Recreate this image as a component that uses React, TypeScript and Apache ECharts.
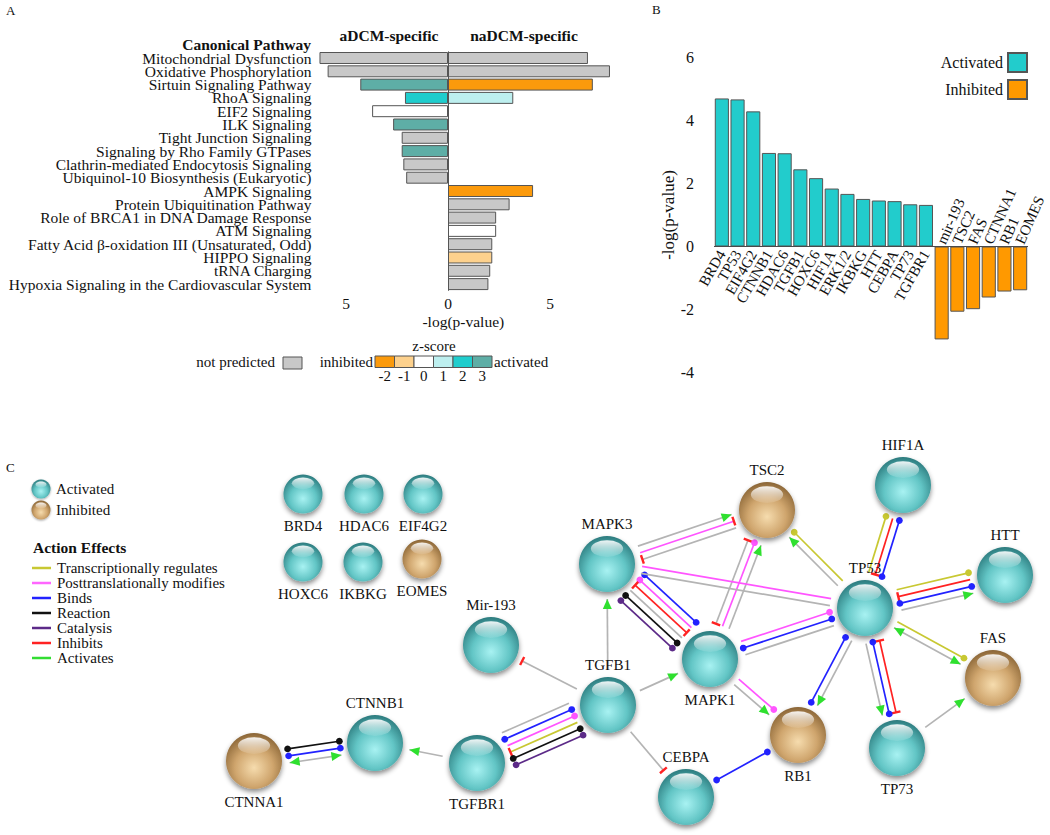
import React, { useEffect, useRef } from 'react';
import * as echarts from 'echarts';

const FONT = "'Liberation Serif', 'Times New Roman', serif";
const INK = '#111111';

// ---------- Panel A data ----------
const pathways = [
  'Mitochondrial Dysfunction',
  'Oxidative Phosphorylation',
  'Sirtuin Signaling Pathway',
  'RhoA Signaling',
  'EIF2 Signaling',
  'ILK Signaling',
  'Tight Junction Signaling',
  'Signaling by Rho Family GTPases',
  'Clathrin-mediated Endocytosis Signaling',
  'Ubiquinol-10 Biosynthesis (Eukaryotic)',
  'AMPK Signaling',
  'Protein Ubiquitination Pathway',
  'Role of BRCA1 in DNA Damage Response',
  'ATM Signaling',
  'Fatty Acid β-oxidation III (Unsaturated, Odd)',
  'HIPPO Signaling',
  'tRNA Charging',
  'Hypoxia Signaling in the Cardiovascular System',
];
const aDCMLogP = [6.3, 5.9, 4.3, 2.11, 3.72, 2.69, 2.27, 2.27, 2.19, 2.05, null, null, null, null, null, null, null, null];
const aDCMZ = [null, null, 3, 2, 0, 3, null, 3, null, null, null, null, null, null, null, null, null, null];
const naDCMLogP = [6.86, 7.94, 7.1, 3.2, null, null, null, null, null, null, 4.17, 3.02, 2.36, 2.36, 2.17, 2.17, 2.07, 1.98];
const naDCMZ = [null, null, -2, 1, null, null, null, null, null, null, -2, null, null, 0, null, -1, null, null];
const zScoreTicks = [-2, -1, 0, 1, 2, 3];
const xTicksA = [-5, 0, 5];

// ---------- Panel B data ----------
const regulators = ['BRD4', 'TP53', 'EIF4G2', 'CTNNB1', 'HDAC6', 'TGFB1', 'HOXC6', 'HIF1A', 'ERK1/2', 'IKBKG', 'HTT', 'CEBPA', 'TP73', 'TGFBR1', 'mir-193', 'TSC2', 'FAS', 'CTNNA1', 'RB1', 'EOMES'];
const regulatorLogP = [4.7, 4.67, 4.29, 2.97, 2.96, 2.45, 2.17, 1.84, 1.67, 1.51, 1.46, 1.44, 1.34, 1.32, -2.95, -2.07, -1.99, -1.62, -1.43, -1.39];

// ---------- Panel C data ----------
const nodeNames = ['BRD4', 'HDAC6', 'EIF4G2', 'HOXC6', 'IKBKG', 'EOMES', 'Mir-193', 'CTNNB1', 'CTNNA1', 'TGFBR1', 'TGFB1', 'MAPK3', 'MAPK1', 'CEBPA', 'TSC2', 'TP53', 'RB1', 'TP73', 'HIF1A', 'HTT', 'FAS'];
const nodeX = [303, 364, 423, 303, 363, 422, 491, 375, 254, 477, 608, 607, 710, 686, 767, 865, 798, 897, 903, 1005, 993];
const nodeY = [494, 494, 494, 562, 562, 559, 645, 743, 761, 763, 705, 564, 659, 797, 510, 608, 735, 748, 485, 575, 678];
const nodeState = ['act', 'act', 'act', 'act', 'act', 'inh', 'act', 'act', 'inh', 'act', 'act', 'act', 'act', 'act', 'inh', 'act', 'inh', 'act', 'act', 'act', 'inh'];
const nodeLabelSide = ['bottom', 'bottom', 'bottom', 'bottom', 'bottom', 'bottom', 'top', 'top', 'bottom', 'bottom', 'top', 'top', 'bottom', 'top', 'top', 'top', 'bottom', 'bottom', 'top', 'top', 'top'];
const nodeBig = [false, false, false, false, false, false, true, true, true, true, true, true, true, true, true, true, true, true, true, true, true];

// [from, to, relation, lane, startMark, endMark]
const edges: any[] = [
  ['CTNNA1', 'CTNNB1', 'reaction', -1, 'dot', 'dot'],
  ['CTNNA1', 'CTNNB1', 'binds', 0, 'dot', 'dot'],
  ['CTNNA1', 'CTNNB1', 'plain', 1, 'arrow', 'arrow'],
  ['TGFBR1', 'CTNNB1', 'plain', 0, '', 'arrow'],
  ['TGFBR1', 'TGFB1', 'plain', -2.5, '', ''],
  ['TGFBR1', 'TGFB1', 'binds', -1.5, 'dot', 'dot'],
  ['TGFBR1', 'TGFB1', 'ptm', -0.5, '', 'dot'],
  ['TGFBR1', 'TGFB1', 'transcr', 0.5, 'bar', ''],
  ['TGFBR1', 'TGFB1', 'reaction', 1.5, 'dot', 'dot'],
  ['TGFBR1', 'TGFB1', 'catalysis', 2.5, 'dot', 'dot'],
  ['TGFB1', 'Mir-193', 'plain', 0, '', 'bar'],
  ['TGFB1', 'MAPK3', 'plain', 0, '', 'arrow'],
  ['TGFB1', 'MAPK1', 'plain', 0, '', 'arrow'],
  ['TGFB1', 'CEBPA', 'plain', 0, '', 'bar'],
  ['CEBPA', 'RB1', 'binds', 0, 'dot', 'dot'],
  ['MAPK3', 'MAPK1', 'binds', -2.5, 'dot', 'dot'],
  ['MAPK3', 'MAPK1', 'ptm', -1.5, 'dot', ''],
  ['MAPK3', 'MAPK1', 'inhibits', -0.5, 'bar', 'bar'],
  ['MAPK3', 'MAPK1', 'plain', 0.5, '', ''],
  ['MAPK3', 'MAPK1', 'reaction', 1.5, 'dot', 'dot'],
  ['MAPK3', 'MAPK1', 'catalysis', 2.5, 'dot', 'dot'],
  ['MAPK3', 'TSC2', 'plain', -1, '', 'arrow'],
  ['MAPK3', 'TSC2', 'ptm', 0, '', 'bar'],
  ['MAPK3', 'TSC2', 'plain', 1, 'bar', ''],
  ['MAPK1', 'TSC2', 'plain', -1, 'bar', 'bar'],
  ['MAPK1', 'TSC2', 'ptm', 0, '', 'dot'],
  ['MAPK1', 'TSC2', 'plain', 1, '', 'arrow'],
  ['MAPK3', 'TP53', 'ptm', -0.5, '', ''],
  ['MAPK3', 'TP53', 'plain', 0.5, '', ''],
  ['MAPK1', 'TP53', 'ptm', -1, '', 'dot'],
  ['MAPK1', 'TP53', 'binds', 0, 'dot', 'dot'],
  ['MAPK1', 'TP53', 'plain', 1, '', ''],
  ['MAPK1', 'RB1', 'ptm', -0.5, '', 'dot'],
  ['MAPK1', 'RB1', 'plain', 0.5, '', 'arrow'],
  ['TP53', 'TSC2', 'transcr', 0.5, '', 'dot'],
  ['TP53', 'TSC2', 'plain', -0.5, '', 'arrow'],
  ['TP53', 'HIF1A', 'transcr', -1, '', 'dot'],
  ['TP53', 'HIF1A', 'inhibits', 0, 'bar', ''],
  ['TP53', 'HIF1A', 'binds', 1, 'dot', 'dot'],
  ['TP53', 'HTT', 'transcr', -1.5, '', 'dot'],
  ['TP53', 'HTT', 'inhibits', -0.5, 'bar', ''],
  ['TP53', 'HTT', 'binds', 0.5, 'dot', 'dot'],
  ['TP53', 'HTT', 'plain', 1.5, '', 'arrow'],
  ['TP53', 'FAS', 'transcr', -0.5, '', 'dot'],
  ['TP53', 'FAS', 'plain', 0.5, 'arrow', 'arrow'],
  ['TP53', 'RB1', 'binds', 0.5, 'dot', 'dot'],
  ['TP53', 'RB1', 'plain', -0.5, '', 'arrow'],
  ['TP53', 'TP73', 'inhibits', -1, 'bar', 'bar'],
  ['TP53', 'TP73', 'binds', 0, 'dot', 'dot'],
  ['TP53', 'TP73', 'plain', 1, '', 'arrow'],
  ['TP73', 'FAS', 'plain', 0, '', 'arrow'],
];

const actionLabels = ['Transcriptionally regulates', 'Posttranslationally modifies', 'Binds', 'Reaction', 'Catalysis', 'Inhibits', 'Activates'];

// ---------- styles ----------
const zColors = ['#fb9a0c', '#fdd18d', '#ffffff', '#bdefef', '#1fcdcd', '#5eaea6'];
const notPredicted = '#c8c8c8';
const actColor = '#22cccc';
const inhColor = '#ff9900';
const relColor: any = {
  plain: '#b4b4b4',
  transcr: '#c8c832',
  ptm: '#ff55ff',
  binds: '#2222ff',
  reaction: '#111111',
  catalysis: '#5c2a88',
  inhibits: '#ff2222',
};
const actionColors = ['#c8c832', '#ff66ff', '#2222ff', '#111111', '#5c2a88', '#ff2222', '#33dd33'];
const ARROW = '#2fe02f';
const TBAR = '#ff2222';

const zColor = (z: any) => (z == null ? notPredicted : zColors[zScoreTicks.indexOf(z)]);

const sphereFill = (state: string) =>
  state === 'act'
    ? {
        type: 'radial', x: 0.5, y: 0.62, r: 0.62,
        colorStops: [
          { offset: 0, color: '#a8f2f2' },
          { offset: 0.55, color: '#62c5c5' },
          { offset: 1, color: '#2b7a7d' },
        ],
      }
    : {
        type: 'radial', x: 0.5, y: 0.62, r: 0.62,
        colorStops: [
          { offset: 0, color: '#f6dcae' },
          { offset: 0.55, color: '#cfa56d' },
          { offset: 1, color: '#8a6536' },
        ],
      };
const glossFill = {
  type: 'linear', x: 0, y: 0, x2: 0, y2: 1,
  colorStops: [
    { offset: 0, color: 'rgba(255,255,255,0.92)' },
    { offset: 1, color: 'rgba(255,255,255,0.08)' },
  ],
};
const ELLIPSE = 'path://M0,50 A50,50 0 1,1 100,50 A50,50 0 1,1 0,50 Z';

const txt = (x: number, y: number, text: string, extra: any = {}) => ({
  type: 'text', x, y, silent: true,
  style: { text, fontFamily: FONT, fontSize: 15, fill: INK, textAlign: 'left', textVerticalAlign: 'middle', ...extra },
});

function buildOption() {
  const nodeIndex: any = {};
  nodeNames.forEach((n, i) => (nodeIndex[n] = i));
  const nodeR = nodeBig.map((b) => (b ? 28 : 19.5));

  const graphics: any[] = [];
  // panel letters
  graphics.push(txt(6, 10, 'A', { fontSize: 13 }));
  graphics.push(txt(652, 9, 'B', { fontSize: 13 }));
  graphics.push(txt(6, 467, 'C', { fontSize: 13 }));
  // panel A headers
  graphics.push(txt(311, 44, 'Canonical Pathway', { fontWeight: 'bold', textAlign: 'right', fontSize: 15.5 }));
  graphics.push(txt(389, 35, 'aDCM-specific', { fontWeight: 'bold', textAlign: 'center', fontSize: 15.5 }));
  graphics.push(txt(524, 35, 'naDCM-specific', { fontWeight: 'bold', textAlign: 'center', fontSize: 15.5 }));
  // z-score legend
  graphics.push(txt(434, 346, 'z-score', { textAlign: 'center' }));
  graphics.push(txt(275, 362, 'not predicted', { textAlign: 'right' }));
  graphics.push({ type: 'rect', shape: { x: 283, y: 357, width: 19, height: 12 }, style: { fill: notPredicted, stroke: '#555', lineWidth: 1 }, silent: true });
  graphics.push(txt(373, 362, 'inhibited', { textAlign: 'right' }));
  zScoreTicks.forEach((z, i) => {
    const x0 = 375 + i * 19.5;
    graphics.push({ type: 'rect', shape: { x: x0, y: 356, width: 19.5, height: 11.5 }, style: { fill: zColor(z), stroke: '#555', lineWidth: 1 }, silent: true });
    graphics.push(txt(x0 + 9.75, 376, String(z), { textAlign: 'center' }));
  });
  graphics.push(txt(494, 362, 'activated'));

  // panel C legend
  [['act', 'Activated', 489], ['inh', 'Inhibited', 510]].forEach(([st, label, y]: any) => {
    graphics.push({ type: 'circle', shape: { cx: 41, cy: y, r: 9.5 }, style: { fill: sphereFill(st), shadowBlur: 2, shadowColor: 'rgba(0,0,0,0.35)', shadowOffsetY: 1 }, silent: true });
    graphics.push({ type: 'ellipse', shape: { cx: 41, cy: y - 4.5, rx: 5.5, ry: 3 }, style: { fill: glossFill }, silent: true });
    graphics.push(txt(56, y, label));
  });
  graphics.push(txt(33, 547, 'Action Effects', { fontWeight: 'bold', fontSize: 15.5 }));
  actionLabels.forEach((lab, i) => {
    const y = 568 + i * 15;
    graphics.push({ type: 'line', shape: { x1: 32, y1: y, x2: 51, y2: y }, style: { stroke: actionColors[i], lineWidth: 2.5 }, silent: true });
    graphics.push(txt(57, y, lab, { lineHeight: 14 }));
  });

  const barBorder = { borderColor: '#555555', borderWidth: 1 };

  const edgeData = edges.map((e) => {
    const a = nodeIndex[e[0]];
    const b = nodeIndex[e[1]];
    return [nodeX[a], nodeY[a], nodeX[b], nodeY[b]];
  });

  const renderEdge = (params: any, api: any) => {
    const e = edges[params.dataIndex];
    const a = nodeIndex[e[0]];
    const b = nodeIndex[e[1]];
    const p1 = api.coord([api.value(0), api.value(1)]);
    const p2 = api.coord([api.value(2), api.value(3)]);
    const dx = p2[0] - p1[0];
    const dy = p2[1] - p1[1];
    const len = Math.hypot(dx, dy) || 1;
    const ux = dx / len;
    const uy = dy / len;
    const px = -uy;
    const py = ux;
    const o = e[3] * 7;
    const g1 = nodeR[a] + 7;
    const g2 = nodeR[b] + 7;
    const s = [p1[0] + ux * g1 + px * o, p1[1] + uy * g1 + py * o];
    const t = [p2[0] - ux * g2 + px * o, p2[1] - uy * g2 + py * o];
    const color = relColor[e[2]];
    const children: any[] = [
      { type: 'line', shape: { x1: s[0], y1: s[1], x2: t[0], y2: t[1] }, style: { stroke: color, lineWidth: 1.7 } },
    ];
    const mark = (kind: string, pt: number[], dirx: number, diry: number) => {
      if (kind === 'dot') {
        children.push({ type: 'circle', shape: { cx: pt[0], cy: pt[1], r: 3.4 }, style: { fill: color === relColor.plain ? '#888' : color } });
      } else if (kind === 'arrow') {
        children.push({
          type: 'polygon',
          shape: {
            points: [
              [pt[0], pt[1]],
              [pt[0] - dirx * 10 - diry * 4.5, pt[1] - diry * 10 + dirx * 4.5],
              [pt[0] - dirx * 10 + diry * 4.5, pt[1] - diry * 10 - dirx * 4.5],
            ],
          },
          style: { fill: ARROW },
        });
      } else if (kind === 'bar') {
        children.push({
          type: 'line',
          shape: { x1: pt[0] + px * 4.5, y1: pt[1] + py * 4.5, x2: pt[0] - px * 4.5, y2: pt[1] - py * 4.5 },
          style: { stroke: TBAR, lineWidth: 2.4 },
        });
      }
    };
    mark(e[4], s, -ux, -uy);
    mark(e[5], t, ux, uy);
    return { type: 'group', children };
  };

  const regLabel = { show: true, verticalAlign: 'middle', distance: 5, formatter: '{b}', fontSize: 15, color: INK, fontFamily: FONT, lineHeight: 13 };

  return {
    animation: false,
    backgroundColor: '#ffffff',
    textStyle: { fontFamily: FONT, color: INK },
    graphic: { elements: graphics },
    legend: {
      data: ['Activated', 'Inhibited'],
      orient: 'vertical',
      right: 22,
      top: 52,
      padding: 0,
      itemWidth: 19,
      itemHeight: 19,
      itemGap: 6,
      align: 'right',
      icon: 'rect',
      textStyle: { fontFamily: FONT, fontSize: 16, color: INK },
    },
    grid: [
      { left: 315.4, top: 51.35, width: 295.8, height: 239.4, outerBoundsMode: 'none', containLabel: false },
      { left: 714, top: 57.5, width: 314, height: 315, outerBoundsMode: 'none', containLabel: false },
      { left: 0, top: 420, width: 1050, height: 415, outerBoundsMode: 'none', containLabel: false },
    ],
    xAxis: [
      {
        gridIndex: 0, type: 'value', min: -6.5, max: 8, splitNumber: 3, minInterval: 5, maxInterval: 5,
        axisLine: { show: false }, axisTick: { show: false }, splitLine: { show: false },
        axisLabel: {
          fontSize: 15.5, color: INK, margin: 5, fontFamily: FONT,
          formatter: (v: number) => (xTicksA.indexOf(v) >= 0 ? String(Math.abs(v)) : ''),
        },
        name: '-log(p-value)', nameLocation: 'middle', nameGap: 23,
        nameTextStyle: { fontSize: 15.5, color: INK, fontFamily: FONT },
      },
      {
        gridIndex: 1, type: 'category', data: regulators, show: false,
      },
      { gridIndex: 2, type: 'value', min: 0, max: 1050, show: false },
    ],
    yAxis: [
      {
        gridIndex: 0, type: 'category', inverse: true, data: pathways,
        axisLine: { show: false }, axisTick: { show: false },
        axisLabel: { interval: 0, fontSize: 15.5, lineHeight: 12, color: INK, margin: 4, fontFamily: FONT },
      },
      {
        gridIndex: 1, type: 'value', min: -4, max: 6, interval: 2,
        axisLine: { show: false }, axisTick: { show: false }, splitLine: { show: false },
        axisLabel: { fontSize: 16, color: INK, margin: 20, fontFamily: FONT },
        name: '-log(p-value)', nameLocation: 'middle', nameGap: 34,
        nameTextStyle: { fontSize: 17, color: INK, fontFamily: FONT },
      },
      { gridIndex: 2, type: 'value', min: 420, max: 835, inverse: true, show: false },
    ],
    series: [
      {
        name: 'aDCM-specific', type: 'bar', xAxisIndex: 0, yAxisIndex: 0, stack: 'A', barCategoryGap: '10%',
        itemStyle: barBorder,
        data: aDCMLogP.map((v, i) => (v == null ? '-' : { value: -v, itemStyle: { color: zColor(aDCMZ[i]) } })),
        markLine: {
          silent: true, symbol: 'none', label: { show: false },
          lineStyle: { color: '#555555', width: 1, type: 'solid' },
          data: [{ xAxis: 0 }],
        },
      },
      {
        name: 'naDCM-specific', type: 'bar', xAxisIndex: 0, yAxisIndex: 0, stack: 'A', barCategoryGap: '10%',
        itemStyle: barBorder,
        data: naDCMLogP.map((v, i) => (v == null ? '-' : { value: v, itemStyle: { color: zColor(naDCMZ[i]) } })),
      },
      {
        name: 'Activated', type: 'bar', xAxisIndex: 1, yAxisIndex: 1, stack: 'B', barCategoryGap: '10%',
        itemStyle: { color: actColor, ...barBorder },
        label: { ...regLabel, rotate: 60, position: 'bottom', align: 'right' },
        data: regulatorLogP.map((v) => (v > 0 ? v : '-')),
        markLine: {
          silent: true, symbol: 'none', label: { show: false },
          lineStyle: { color: '#4a4a4a', width: 1, type: 'solid' },
          data: [{ yAxis: 0 }],
        },
      },
      {
        name: 'Inhibited', type: 'bar', xAxisIndex: 1, yAxisIndex: 1, stack: 'B', barCategoryGap: '10%',
        itemStyle: { color: inhColor, ...barBorder },
        label: { ...regLabel, rotate: 66, offset: [-2, 0], position: 'top', align: 'left' },
        data: regulatorLogP.map((v) => (v < 0 ? v : '-')),
      },
      {
        name: 'edges', type: 'custom', xAxisIndex: 2, yAxisIndex: 2, z: 1, silent: true, clip: false,
        encode: { x: [0, 2], y: [1, 3] },
        data: edgeData,
        renderItem: renderEdge,
      },
      {
        name: 'nodes', type: 'scatter', xAxisIndex: 2, yAxisIndex: 2, z: 3, silent: true,
        data: nodeNames.map((n, i) => ({
          name: n,
          value: [nodeX[i], nodeY[i]],
          symbolSize: nodeR[i] * 2,
          itemStyle: {
            color: sphereFill(nodeState[i]),
            shadowBlur: 5, shadowColor: 'rgba(0,0,0,0.45)', shadowOffsetY: 3,
            opacity: 1,
          },
          label: { show: true, position: nodeLabelSide[i], distance: 5, formatter: '{b}', fontSize: 15, color: INK, fontFamily: FONT },
        })),
      },
      {
        name: 'gloss', type: 'scatter', xAxisIndex: 2, yAxisIndex: 2, z: 4, silent: true, symbol: ELLIPSE,
        data: nodeNames.map((n, i) => ({
          name: n,
          value: [nodeX[i], nodeY[i]],
          symbolSize: [nodeR[i] * 1.15, nodeR[i] * 0.6],
          symbolOffset: [0, -nodeR[i] * 0.55],
          itemStyle: { color: glossFill, opacity: 1 },
        })),
      },
    ],
  };
}

export default function App() {
  const ref = useRef<HTMLDivElement>(null);
  useEffect(() => {
    if (!ref.current) return;
    const chart = echarts.init(ref.current, null, { renderer: 'svg' });
    chart.setOption(buildOption() as any);
    return () => chart.dispose();
  }, []);
  return <div ref={ref} style={{ position: 'absolute', left: 0, top: 0, width: 1050, height: 835, background: '#fff' }} />;
}
